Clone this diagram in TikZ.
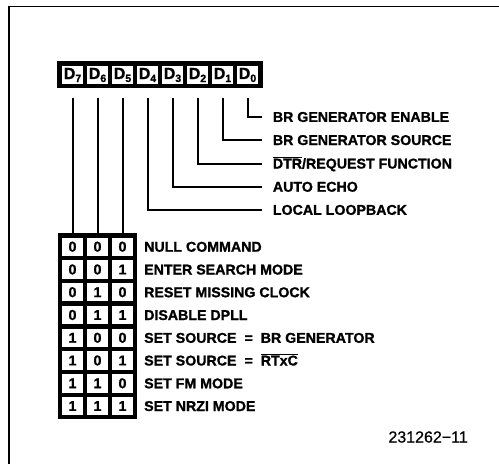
\documentclass[tikz,border=0pt]{standalone}
\usepackage{fontspec}
\setmainfont{Liberation Sans}[BoldFeatures={FakeBold=1.2}]
\newfontfamily\numfont{Liberation Sans}[FakeBold=0.6]

\newcommand{\dsub}[1]{D\raisebox{-3pt}{\fontsize{10.5}{10.5}\selectfont #1}}
\newcommand{\ovl}[1]{$\overline{\mbox{#1}}$}

\tikzset{
  dcell/.style={fill=white, inner sep=0pt, minimum width=21pt, minimum height=18pt,
    font={\fontsize{16}{16}\bfseries\selectfont}},
  bcell/.style={fill=white, inner sep=0pt, minimum width=20.5pt, minimum height=18.4pt,
    font={\fontsize{14.2}{14.2}\bfseries\selectfont}},
  lbl/.style={anchor=west, inner sep=0pt, text height=10pt, text depth=0pt,
    font={\fontsize{14.2}{14.2}\bfseries\selectfont}},
  wire/.style={line width=2pt}
}

\begin{document}
\begin{tikzpicture}[x=1pt, y=-1pt]

\useasboundingbox (0,0) rectangle (499,464);

% frame
\draw[line width=1.5pt] (9,464) -- (9,6.5) -- (499,6.5);

% register bits
\node [fill=black, inner sep=0pt, minimum width=206.6pt, minimum height=27.3pt] (dbar) at (160,74.65) {};
\node [dcell] (d7) at (72.5,75) {\dsub{7}};
\node [dcell] (d6) at (97.5,75) {\dsub{6}};
\node [dcell] (d5) at (122.5,75) {\dsub{5}};
\node [dcell] (d4) at (147.5,75) {\dsub{4}};
\node [dcell] (d3) at (172.5,75) {\dsub{3}};
\node [dcell] (d2) at (197.5,75) {\dsub{2}};
\node [dcell] (d1) at (222.5,75) {\dsub{1}};
\node [dcell] (d0) at (247.5,75) {\dsub{0}};

% single bit functions
\node [lbl] (l0) at (272.7,116.9) {BR GENERATOR ENABLE};
\node [lbl] (l1) at (272.7,140) {BR GENERATOR SOURCE};
\node [lbl] (l2) at (272.7,163.5) {\ovl{DTR}/REQUEST FUNCTION};
\node [lbl] (l3) at (272.7,186.7) {AUTO ECHO};
\node [lbl] (l4) at (272.7,209.8) {LOCAL LOOPBACK};

\draw[wire] ([yshift=-14pt]d0.south) |- ([xshift=-11pt]l0.west);
\draw[wire] ([yshift=-14pt]d1.south) |- ([xshift=-11pt]l1.west);
\draw[wire] ([yshift=-14pt]d2.south) |- ([xshift=-11pt]l2.west);
\draw[wire] ([yshift=-14pt]d3.south) |- ([xshift=-11pt]l3.west);
\draw[wire] ([yshift=-14pt]d4.south) |- ([xshift=-11pt]l4.west);

% command table
\node [fill=black, inner sep=0pt, minimum width=79pt, minimum height=186.3pt] (tbl) at (97.8,326.15) {};

\node [bcell] (r1a) at (72.5,246.7) {0}; \node [bcell] (r1b) at (97.5,246.7) {0}; \node [bcell] (r1c) at (122.5,246.7) {0};
\node [bcell] (r2a) at (72.5,269.5) {0}; \node [bcell] (r2b) at (97.5,269.5) {0}; \node [bcell] (r2c) at (122.5,269.5) {1};
\node [bcell] (r3a) at (72.5,292.2) {0}; \node [bcell] (r3b) at (97.5,292.2) {1}; \node [bcell] (r3c) at (122.5,292.2) {0};
\node [bcell] (r4a) at (72.5,315.0) {0}; \node [bcell] (r4b) at (97.5,315.0) {1}; \node [bcell] (r4c) at (122.5,315.0) {1};
\node [bcell] (r5a) at (72.5,337.8) {1}; \node [bcell] (r5b) at (97.5,337.8) {0}; \node [bcell] (r5c) at (122.5,337.8) {0};
\node [bcell] (r6a) at (72.5,360.5) {1}; \node [bcell] (r6b) at (97.5,360.5) {0}; \node [bcell] (r6c) at (122.5,360.5) {1};
\node [bcell] (r7a) at (72.5,383.3) {1}; \node [bcell] (r7b) at (97.5,383.3) {1}; \node [bcell] (r7c) at (122.5,383.3) {0};
\node [bcell] (r8a) at (72.5,406.0) {1}; \node [bcell] (r8b) at (97.5,406.0) {1}; \node [bcell] (r8c) at (122.5,406.0) {1};

\node [lbl] (n1) at (144,246.7) {NULL COMMAND};
\node [lbl] (n2) at (144,269.5) {ENTER SEARCH MODE};
\node [lbl] (n3) at (144,292.2) {RESET MISSING CLOCK};
\node [lbl] (n4) at (144,315.0) {DISABLE DPLL};
\node [lbl] (n5) at (144,337.8) {SET SOURCE\hspace{8pt}=\hspace{8pt}BR GENERATOR};
\node [lbl] (n6) at (144,360.5) {SET SOURCE\hspace{8pt}=\hspace{8pt}\ovl{RTxC}};
\node [lbl] (n7) at (144,383.3) {SET FM MODE};
\node [lbl] (n8) at (144,406.0) {SET NRZI MODE};

\draw[wire] ([yshift=-14pt]d7.south) -- (d7 |- tbl.north);
\draw[wire] ([yshift=-14pt]d6.south) -- (d6 |- tbl.north);
\draw[wire] ([yshift=-14pt]d5.south) -- (d5 |- tbl.north);

% figure number
\node [anchor=east, inner sep=0pt, font={\fontsize{16}{16}\numfont}] (fignum) at (468,437) {231262\char"2212 11};

\end{tikzpicture}
\end{document}
